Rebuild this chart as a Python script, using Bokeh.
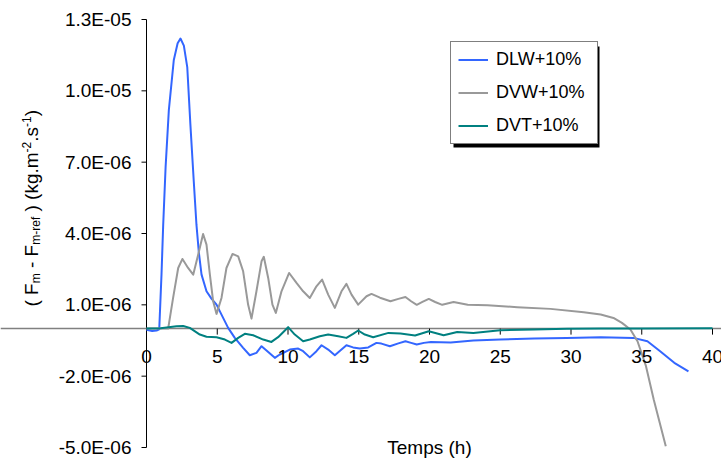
import math
from bokeh.plotting import figure
from bokeh.models import (Range1d, Label, LabelSet, Span, ColumnDataSource, Legend, LegendItem,
                          BoxAnnotation)
from bokeh.core.properties import value
from bokeh.embed import file_html
from bokeh.resources import INLINE

# ---------------- data (values in units of 1e-6 kg.m-2.s-1) ----------------
dlw_t = [0, 0.4, 0.71, 0.9, 1.06, 1.18, 1.35, 1.58, 1.93, 2.2, 2.4, 2.64, 2.88, 3.1, 3.34, 3.53,
         3.7, 3.89, 4.24, 4.59, 4.95, 5.3, 5.77, 6.24, 6.83, 7.3, 7.77, 8.13, 8.48, 9.07, 9.42,
         10.13, 10.72, 11.07, 11.54, 12.01, 12.37, 12.84, 13.31, 13.78, 14.13, 14.6, 15.08, 15.67,
         16.25, 16.6, 17.2, 17.8, 18.3, 18.7, 19.1, 19.6, 20.1, 21.5, 23.1, 25.0, 27.4, 29.7, 32.1,
         34.4, 35.4, 36.3, 37.3, 38.3]
dlw_v = [-0.05, -0.1, -0.08, -0.03, 2.27, 4.37, 6.8, 9.2, 11.3, 12.0, 12.2, 11.9, 11.0, 8.6, 6.2, 4.37,
         3.2, 2.27, 1.57, 1.26, 1.01, 0.59, 0.03, -0.39, -0.81, -1.12, -1.02, -0.74, -0.92, -1.23, -1.09,
         -0.88, -0.84, -0.95, -1.21, -0.95, -0.7, -0.88, -1.12, -0.88, -0.7, -0.79, -0.84, -0.79,
         -0.6, -0.63, -0.74, -0.62, -0.53, -0.6, -0.67, -0.6, -0.56, -0.58, -0.5, -0.46, -0.42, -0.39, -0.36,
         -0.39, -0.53, -0.95, -1.44, -1.8]

dvw_t = [0, 1.0, 1.53, 1.88, 2.24, 2.54, 2.94, 3.30, 3.65, 4.0, 4.24, 4.48, 4.71, 4.95, 5.3, 5.65,
         6.08, 6.48, 6.83, 7.18, 7.42, 7.77, 8.13, 8.29, 8.6, 8.9, 9.14, 9.54, 10.08, 10.6, 11.07,
         11.54, 12.01, 12.41, 12.84, 13.31, 13.78, 14.13, 14.49, 14.96, 15.55, 15.9, 16.5, 17.24,
         17.8, 18.3, 18.7, 19.1, 19.5, 19.95, 20.4, 20.9, 21.7, 22.7, 24.1, 26.2, 28.55, 30.9, 32.1,
         33.0, 33.6, 34.2, 34.7, 35.3, 35.85, 36.7]
dvw_v = [0, 0, 0, 1.29, 2.55, 2.93, 2.55, 2.27, 3.11, 3.98, 3.53, 2.27, 1.15, 0.62, 1.29, 2.55,
         3.14, 3.04, 2.41, 1.01, 0.42, 1.57, 2.83, 3.02, 2.13, 1.01, 0.66, 1.57, 2.34, 1.92, 1.57,
         1.29, 1.78, 2.06, 1.43, 0.87, 1.57, 1.88, 1.43, 1.01, 1.36, 1.46, 1.3, 1.15,
         1.25, 1.33, 1.15, 1.0, 1.12, 1.25, 1.12, 1.0, 1.12, 1.0, 0.98, 0.9, 0.83, 0.69, 0.59,
         0.45, 0.24, -0.04, -0.53, -1.58, -2.99, -4.95]

dvt_t = [0, 1.0, 2.12, 2.59, 3.06, 3.77, 4.24, 4.95, 5.54, 6.01, 6.48, 6.95, 7.54, 8.25, 8.83, 9.3,
         10.01, 10.48, 11.07, 11.54, 12.25, 12.84, 13.55, 14.13, 14.6, 14.96, 15.43, 16.02, 17.1,
         17.95, 18.98, 19.95, 21.0, 21.96, 23.1, 25.0, 27.4, 29.7, 32.1, 35.0, 40.0]
dvt_v = [0, 0.02, 0.1, 0.11, 0.03, -0.25, -0.34, -0.36, -0.46, -0.6, -0.39, -0.22, -0.28, -0.46, -0.56, -0.36,
         0.06, -0.25, -0.53, -0.46, -0.32, -0.25, -0.32, -0.39, -0.22, -0.08, -0.25, -0.36, -0.18,
         -0.21, -0.29, -0.11, -0.28, -0.14, -0.18, -0.07, -0.04, -0.01, 0.0, 0.0, 0.01]

assert len(dlw_t) == len(dlw_v) and len(dvw_t) == len(dvw_v) and len(dvt_t) == len(dvt_v)

series_names = ["DLW+10%", "DVW+10%", "DVT+10%"]
series_colors = ["#3366ff", "#999999", "#008080"]

x_ticks = [0, 5, 10, 15, 20, 25, 30, 35, 40]
x_tick_labels = ["0", "5", "10", "15", "20", "25", "30", "35", "40"]
y_ticks = [-5e-6, -2e-6, 1e-6, 4e-6, 7e-6, 1e-5, 1.3e-5]
y_tick_labels = ["-5.0E-06", "-2.0E-06", "1.0E-06", "4.0E-06", "7.0E-06", "1.0E-05", "1.3E-05"]
x_title = "Temps (h)"
# y title pieces: (text, 0 = normal, -1 = subscript, 1 = superscript)
y_title_pieces = [("( F", 0), ("m", -1), (" - F", 0), ("m-ref", -1), (" ) (kg.m", 0), ("-2", 1),
                  (".s", 0), ("-1", 1), (")", 0)]

SCALE = 1e-6
FONT = "Liberation Sans"

# ---------------- layout (pixels) ----------------
W, H = 721, 461
PX_L, PX_R = 146, 712          # canvas x of x=0 and x=40
PY_T, PY_B = 19, 447           # canvas y of y=1.3e-5 and y=-5e-6
XMIN, XMAX = 0, 40
YMIN, YMAX = -5e-6, 1.3e-5
ppx = (PX_R - PX_L) / (XMAX - XMIN)
ppy = (PY_B - PY_T) / (YMAX - YMIN)
x_range = Range1d(XMIN - PX_L / ppx, XMAX + (W - PX_R) / ppx)
y_range = Range1d(YMIN - (H - PY_B) / ppy, YMAX + PY_T / ppy)

p = figure(width=W, height=H, x_range=x_range, y_range=y_range,
           output_backend="svg", toolbar_location=None,
           x_axis_location=None, y_axis_location=None,
           min_border_left=0, min_border_right=0, min_border_top=0, min_border_bottom=0)
p.outline_line_color = None
p.xgrid.visible = False
p.ygrid.visible = False
p.background_fill_color = "white"
p.border_fill_color = "white"

# ---- y axis (drawn) ----
p.segment(x0=[XMIN], y0=[YMIN], x1=[XMIN], y1=[YMAX], line_color="black", line_width=1)
ytick_len = 5 / ppx
p.segment(x0=[XMIN - ytick_len] * len(y_ticks), y0=y_ticks, x1=[XMIN] * len(y_ticks), y1=y_ticks,
          line_color="black", line_width=1)
yl_src = ColumnDataSource(dict(x=[XMIN] * len(y_ticks), y=y_ticks, text=y_tick_labels))
p.add_layout(LabelSet(x="x", y="y", text="text", source=yl_src, text_align="right",
                      text_baseline="middle", x_offset=-15, text_font=value(FONT),
                      text_font_size=value("19px"), text_color="black"))

# ---- x axis at zero (drawn) ----
p.add_layout(Span(location=0, dimension="width", line_color="#808080", line_width=1.5,
                  level="underlay"))
xtick_len = 6 / ppy
p.segment(x0=x_ticks, y0=[0] * len(x_ticks), x1=x_ticks, y1=[-xtick_len] * len(x_ticks),
          line_color="black", line_width=1)
xl_src = ColumnDataSource(dict(x=x_ticks, y=[0] * len(x_ticks), text=x_tick_labels))
p.add_layout(LabelSet(x="x", y="y", text="text", source=xl_src, text_align="center",
                      text_baseline="middle", y_offset=-28, text_font=value(FONT),
                      text_font_size=value("19px"), text_color="black"))

# ---- curves ----
renderers = []
for t, v, c in [(dlw_t, dlw_v, series_colors[0]), (dvw_t, dvw_v, series_colors[1]),
                (dvt_t, dvt_v, series_colors[2])]:
    src = ColumnDataSource(dict(x=t, y=[vv * SCALE for vv in v]))
    renderers.append(p.line("x", "y", source=src, line_color=c, line_width=2,
                            line_join="round"))

# ---- x title ----
p.add_layout(Label(x=(XMIN + XMAX) / 2, y=YMIN, text=x_title, text_align="center",
                   text_baseline="middle", text_font=FONT, text_font_size="19px",
                   text_color="black"))

# ---- legend with shadow (screen px from bottom-left) ----
LX, LY, LW, LH = 450, H - 144, 146, 101
p.add_layout(BoxAnnotation(left=LX + 3, right=LX + LW + 3, bottom=LY - 3, top=LY + LH - 3,
                           left_units="screen", right_units="screen", top_units="screen",
                           bottom_units="screen", fill_color="black", fill_alpha=1.0,
                           line_color=None, level="annotation"))
legend = Legend(items=[LegendItem(label=n, renderers=[r]) for n, r in zip(series_names, renderers)],
                location=(LX, LY), padding=7, spacing=12, label_height=21, glyph_height=21,
                glyph_width=30, label_standoff=8, label_width=94, margin=0,
                border_line_color="black", border_line_width=1, background_fill_color="white",
                background_fill_alpha=1.0, label_text_font=FONT, label_text_font_size="18px",
                label_text_color="black")
p.add_layout(legend)

# ---- rotated y-axis title built from pieces (normal / subscript / superscript) ----
AW = {' ': 278, '(': 333, ')': 333, 'F': 611, 'm': 833, '-': 333, 'r': 333, 'e': 556, 'f': 278,
      'k': 500, 'g': 556, '.': 278, 's': 500, '1': 556, '2': 556}
BIG, SMALL = 19, 12
base_x = {0: 31, -1: 35, 1: 26}


def advance(s, size):
    return sum(AW[c] for c in s) * size / 1000.0


ycur = 306.0
for txt, kind in y_title_pieces:
    size = BIG if kind == 0 else SMALL
    core = txt.strip(" ")
    lead = txt[:len(txt) - len(txt.lstrip(" "))]
    trail = txt[len(txt.rstrip(" ")):]
    ycur -= advance(lead, size)
    p.add_layout(Label(x=base_x[kind], y=H - ycur, x_units="screen", y_units="screen",
                       text=core, angle=math.pi / 2, text_align="left", text_baseline="alphabetic",
                       text_font=FONT, text_font_size=f"{size}px", text_color="black"))
    ycur -= advance(core, size) + advance(trail, size)

open("out.html", "w").write(file_html(p, INLINE))
